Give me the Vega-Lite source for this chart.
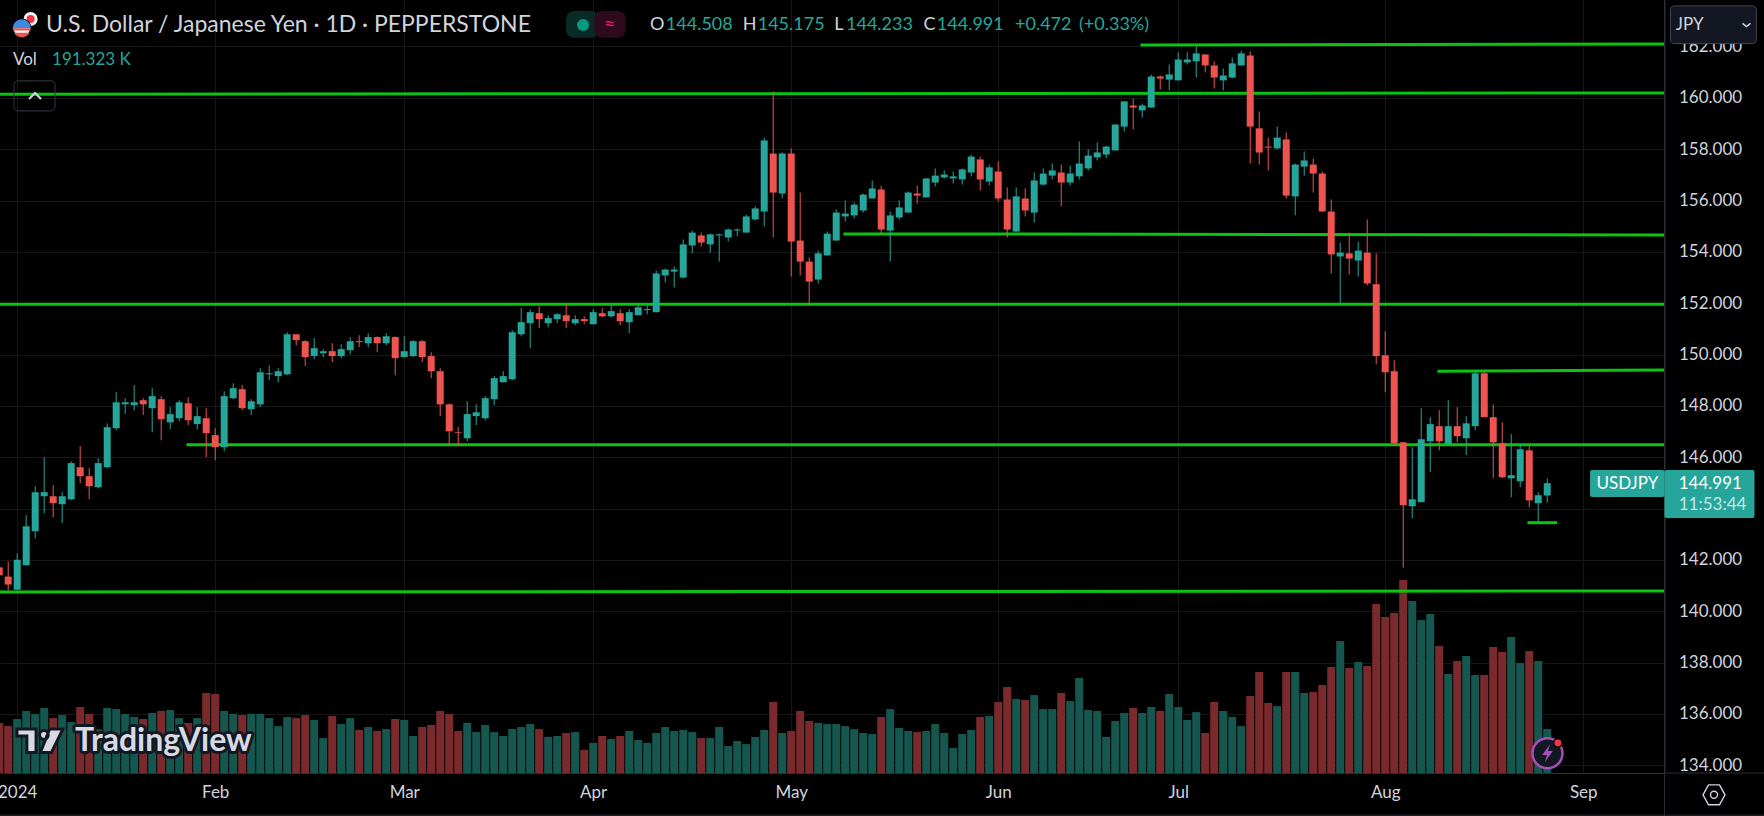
{"$schema":"https://vega.github.io/schema/vega-lite/v6.json","autosize":{"type":"none"},"padding":{"left":0,"top":0,"right":99.5,"bottom":43},"width":1664.5,"height":773,"background":"#000000","config":{"font":"Lato","view":{"stroke":null}},
"datasets":{"bars":[
{"i":-2,"o":141.71,"h":141.9,"l":141.3,"c":141.4,"v":218,"dir":"down"},
{"i":-1,"o":141.35,"h":141.94,"l":140.81,"c":141.04,"v":204,"dir":"down"},
{"i":0,"o":140.84,"h":142.25,"l":140.84,"c":142.01,"v":235,"dir":"up"},
{"i":1,"o":141.79,"h":143.74,"l":141.79,"c":143.31,"v":270,"dir":"up"},
{"i":2,"o":143.12,"h":144.87,"l":142.84,"c":144.64,"v":257,"dir":"up"},
{"i":3,"o":144.48,"h":146.0,"l":143.82,"c":144.64,"v":283,"dir":"up"},
{"i":4,"o":144.48,"h":144.91,"l":143.66,"c":144.21,"v":239,"dir":"down"},
{"i":5,"o":144.17,"h":144.64,"l":143.43,"c":144.48,"v":252,"dir":"up"},
{"i":6,"o":144.36,"h":145.84,"l":144.32,"c":145.77,"v":222,"dir":"up"},
{"i":7,"o":145.61,"h":146.43,"l":144.99,"c":145.26,"v":287,"dir":"down"},
{"i":8,"o":145.26,"h":145.57,"l":144.36,"c":144.87,"v":257,"dir":"down"},
{"i":9,"o":144.83,"h":145.96,"l":144.79,"c":145.77,"v":190,"dir":"up"},
{"i":10,"o":145.61,"h":147.32,"l":145.57,"c":147.17,"v":283,"dir":"up"},
{"i":11,"o":147.13,"h":148.53,"l":147.05,"c":148.14,"v":278,"dir":"up"},
{"i":12,"o":148.06,"h":148.3,"l":147.68,"c":148.14,"v":257,"dir":"up"},
{"i":13,"o":148.03,"h":148.81,"l":147.83,"c":148.14,"v":244,"dir":"up"},
{"i":14,"o":148.22,"h":148.3,"l":147.64,"c":148.06,"v":235,"dir":"down"},
{"i":15,"o":147.91,"h":148.69,"l":146.97,"c":148.38,"v":261,"dir":"up"},
{"i":16,"o":148.26,"h":148.38,"l":146.66,"c":147.48,"v":270,"dir":"down"},
{"i":17,"o":147.36,"h":147.95,"l":147.09,"c":147.68,"v":274,"dir":"up"},
{"i":18,"o":147.52,"h":148.22,"l":147.4,"c":148.14,"v":239,"dir":"up"},
{"i":19,"o":148.1,"h":148.34,"l":147.25,"c":147.44,"v":218,"dir":"down"},
{"i":20,"o":147.29,"h":147.95,"l":147.09,"c":147.6,"v":239,"dir":"up"},
{"i":21,"o":147.52,"h":147.91,"l":146.0,"c":146.94,"v":348,"dir":"down"},
{"i":22,"o":146.86,"h":147.13,"l":145.88,"c":146.39,"v":344,"dir":"down"},
{"i":23,"o":146.39,"h":148.57,"l":146.23,"c":148.38,"v":270,"dir":"up"},
{"i":24,"o":148.3,"h":148.88,"l":148.26,"c":148.69,"v":257,"dir":"up"},
{"i":25,"o":148.65,"h":148.81,"l":147.83,"c":147.91,"v":252,"dir":"down"},
{"i":26,"o":147.87,"h":148.26,"l":147.64,"c":148.18,"v":257,"dir":"up"},
{"i":27,"o":148.06,"h":149.47,"l":147.95,"c":149.31,"v":257,"dir":"up"},
{"i":28,"o":149.23,"h":149.58,"l":149.0,"c":149.27,"v":239,"dir":"up"},
{"i":29,"o":149.16,"h":149.47,"l":148.92,"c":149.35,"v":204,"dir":"up"},
{"i":30,"o":149.23,"h":150.87,"l":149.19,"c":150.79,"v":244,"dir":"up"},
{"i":31,"o":150.79,"h":150.79,"l":150.36,"c":150.56,"v":239,"dir":"down"},
{"i":32,"o":150.52,"h":150.56,"l":149.55,"c":149.9,"v":252,"dir":"down"},
{"i":33,"o":149.94,"h":150.64,"l":149.82,"c":150.25,"v":231,"dir":"up"},
{"i":34,"o":150.05,"h":150.21,"l":149.9,"c":150.13,"v":152,"dir":"up"},
{"i":35,"o":150.13,"h":150.44,"l":149.7,"c":149.94,"v":248,"dir":"down"},
{"i":36,"o":149.94,"h":150.4,"l":149.86,"c":150.21,"v":213,"dir":"up"},
{"i":37,"o":150.17,"h":150.68,"l":150.01,"c":150.52,"v":239,"dir":"up"},
{"i":38,"o":150.52,"h":150.75,"l":150.29,"c":150.48,"v":187,"dir":"down"},
{"i":39,"o":150.44,"h":150.83,"l":150.29,"c":150.68,"v":200,"dir":"up"},
{"i":40,"o":150.68,"h":150.71,"l":150.09,"c":150.44,"v":183,"dir":"down"},
{"i":41,"o":150.44,"h":150.83,"l":150.36,"c":150.71,"v":191,"dir":"up"},
{"i":42,"o":150.68,"h":150.71,"l":149.19,"c":149.86,"v":235,"dir":"down"},
{"i":43,"o":149.9,"h":150.71,"l":149.9,"c":150.13,"v":231,"dir":"up"},
{"i":44,"o":149.94,"h":150.56,"l":149.9,"c":150.52,"v":161,"dir":"up"},
{"i":45,"o":150.52,"h":150.56,"l":149.7,"c":149.9,"v":200,"dir":"down"},
{"i":46,"o":149.94,"h":150.09,"l":149.08,"c":149.35,"v":209,"dir":"down"},
{"i":47,"o":149.35,"h":149.47,"l":147.6,"c":148.06,"v":270,"dir":"down"},
{"i":48,"o":148.06,"h":148.1,"l":146.43,"c":147.01,"v":257,"dir":"down"},
{"i":49,"o":146.97,"h":147.17,"l":146.43,"c":146.94,"v":183,"dir":"down"},
{"i":50,"o":146.74,"h":148.18,"l":146.62,"c":147.68,"v":218,"dir":"up"},
{"i":51,"o":147.6,"h":148.06,"l":147.25,"c":147.75,"v":178,"dir":"up"},
{"i":52,"o":147.52,"h":148.38,"l":147.44,"c":148.3,"v":209,"dir":"up"},
{"i":53,"o":148.26,"h":149.16,"l":148.03,"c":149.08,"v":178,"dir":"up"},
{"i":54,"o":148.92,"h":149.35,"l":148.92,"c":149.16,"v":161,"dir":"up"},
{"i":55,"o":149.04,"h":150.95,"l":149.0,"c":150.87,"v":191,"dir":"up"},
{"i":56,"o":150.79,"h":151.81,"l":150.71,"c":151.26,"v":200,"dir":"up"},
{"i":57,"o":151.22,"h":151.77,"l":150.25,"c":151.65,"v":213,"dir":"up"},
{"i":58,"o":151.61,"h":151.88,"l":151.03,"c":151.38,"v":191,"dir":"down"},
{"i":59,"o":151.22,"h":151.53,"l":151.06,"c":151.42,"v":157,"dir":"up"},
{"i":60,"o":151.38,"h":151.61,"l":151.22,"c":151.57,"v":161,"dir":"up"},
{"i":61,"o":151.53,"h":151.96,"l":151.03,"c":151.3,"v":174,"dir":"down"},
{"i":62,"o":151.22,"h":151.53,"l":151.14,"c":151.38,"v":178,"dir":"up"},
{"i":63,"o":151.38,"h":151.49,"l":151.18,"c":151.3,"v":100,"dir":"down"},
{"i":64,"o":151.18,"h":151.77,"l":151.18,"c":151.65,"v":131,"dir":"up"},
{"i":65,"o":151.61,"h":151.81,"l":151.45,"c":151.49,"v":161,"dir":"down"},
{"i":66,"o":151.49,"h":151.92,"l":151.45,"c":151.69,"v":148,"dir":"up"},
{"i":67,"o":151.61,"h":151.77,"l":151.14,"c":151.3,"v":161,"dir":"down"},
{"i":68,"o":151.26,"h":151.77,"l":150.83,"c":151.65,"v":183,"dir":"up"},
{"i":69,"o":151.53,"h":151.92,"l":151.53,"c":151.84,"v":144,"dir":"up"},
{"i":70,"o":151.73,"h":151.92,"l":151.57,"c":151.77,"v":131,"dir":"up"},
{"i":71,"o":151.65,"h":153.27,"l":151.65,"c":153.16,"v":174,"dir":"up"},
{"i":72,"o":153.08,"h":153.35,"l":152.81,"c":153.31,"v":200,"dir":"up"},
{"i":73,"o":153.23,"h":153.43,"l":152.61,"c":153.31,"v":183,"dir":"up"},
{"i":74,"o":153.0,"h":154.48,"l":152.96,"c":154.29,"v":187,"dir":"up"},
{"i":75,"o":154.25,"h":154.83,"l":153.94,"c":154.75,"v":178,"dir":"up"},
{"i":76,"o":154.64,"h":154.75,"l":154.21,"c":154.36,"v":152,"dir":"down"},
{"i":77,"o":154.29,"h":154.71,"l":153.97,"c":154.68,"v":152,"dir":"up"},
{"i":78,"o":154.64,"h":154.71,"l":153.62,"c":154.68,"v":200,"dir":"up"},
{"i":79,"o":154.56,"h":154.91,"l":154.4,"c":154.87,"v":117,"dir":"up"},
{"i":80,"o":154.83,"h":154.91,"l":154.6,"c":154.87,"v":139,"dir":"up"},
{"i":81,"o":154.75,"h":155.45,"l":154.75,"c":155.38,"v":126,"dir":"up"},
{"i":82,"o":155.26,"h":155.77,"l":155.22,"c":155.69,"v":157,"dir":"up"},
{"i":83,"o":155.57,"h":158.45,"l":154.99,"c":158.34,"v":187,"dir":"up"},
{"i":84,"o":157.83,"h":160.25,"l":154.56,"c":156.31,"v":309,"dir":"down"},
{"i":85,"o":156.27,"h":157.87,"l":156.08,"c":157.83,"v":174,"dir":"up"},
{"i":86,"o":157.83,"h":158.03,"l":153.04,"c":154.4,"v":183,"dir":"down"},
{"i":87,"o":154.44,"h":156.31,"l":153.08,"c":153.62,"v":270,"dir":"down"},
{"i":88,"o":153.62,"h":153.78,"l":151.91,"c":152.84,"v":226,"dir":"down"},
{"i":89,"o":152.92,"h":154.05,"l":152.77,"c":153.94,"v":218,"dir":"up"},
{"i":90,"o":153.86,"h":154.79,"l":153.86,"c":154.71,"v":213,"dir":"up"},
{"i":91,"o":154.44,"h":155.65,"l":154.44,"c":155.53,"v":213,"dir":"up"},
{"i":92,"o":155.38,"h":156.0,"l":155.18,"c":155.49,"v":204,"dir":"up"},
{"i":93,"o":155.42,"h":155.92,"l":155.3,"c":155.84,"v":191,"dir":"up"},
{"i":94,"o":155.61,"h":156.27,"l":155.53,"c":156.23,"v":174,"dir":"up"},
{"i":95,"o":156.08,"h":156.78,"l":156.08,"c":156.47,"v":170,"dir":"up"},
{"i":96,"o":156.43,"h":156.58,"l":154.71,"c":154.87,"v":244,"dir":"down"},
{"i":97,"o":154.83,"h":155.57,"l":153.62,"c":155.42,"v":278,"dir":"up"},
{"i":98,"o":155.34,"h":156.0,"l":155.26,"c":155.73,"v":196,"dir":"up"},
{"i":99,"o":155.53,"h":156.35,"l":155.53,"c":156.31,"v":183,"dir":"up"},
{"i":100,"o":156.27,"h":156.58,"l":155.88,"c":156.19,"v":178,"dir":"down"},
{"i":101,"o":156.12,"h":156.86,"l":156.12,"c":156.86,"v":183,"dir":"up"},
{"i":102,"o":156.7,"h":157.25,"l":156.55,"c":156.97,"v":213,"dir":"up"},
{"i":103,"o":156.9,"h":157.17,"l":156.86,"c":157.01,"v":174,"dir":"up"},
{"i":104,"o":156.86,"h":157.13,"l":156.66,"c":156.94,"v":109,"dir":"up"},
{"i":105,"o":156.82,"h":157.25,"l":156.62,"c":157.21,"v":170,"dir":"up"},
{"i":106,"o":157.09,"h":157.79,"l":156.94,"c":157.71,"v":187,"dir":"up"},
{"i":107,"o":157.6,"h":157.71,"l":156.39,"c":156.82,"v":244,"dir":"down"},
{"i":108,"o":156.74,"h":157.4,"l":156.58,"c":157.29,"v":248,"dir":"up"},
{"i":109,"o":157.13,"h":157.52,"l":155.96,"c":156.08,"v":309,"dir":"down"},
{"i":110,"o":156.04,"h":156.51,"l":154.56,"c":154.87,"v":374,"dir":"down"},
{"i":111,"o":154.79,"h":156.51,"l":154.79,"c":156.16,"v":322,"dir":"up"},
{"i":112,"o":156.08,"h":156.47,"l":155.38,"c":155.61,"v":318,"dir":"down"},
{"i":113,"o":155.53,"h":157.09,"l":155.14,"c":156.78,"v":339,"dir":"up"},
{"i":114,"o":156.62,"h":157.25,"l":156.58,"c":157.05,"v":278,"dir":"up"},
{"i":115,"o":156.97,"h":157.44,"l":156.82,"c":157.17,"v":278,"dir":"up"},
{"i":116,"o":157.09,"h":157.4,"l":155.77,"c":156.7,"v":348,"dir":"down"},
{"i":117,"o":156.7,"h":157.36,"l":156.58,"c":157.05,"v":313,"dir":"up"},
{"i":118,"o":156.94,"h":158.3,"l":156.82,"c":157.44,"v":413,"dir":"up"},
{"i":119,"o":157.25,"h":157.99,"l":157.17,"c":157.75,"v":274,"dir":"up"},
{"i":120,"o":157.68,"h":158.26,"l":157.56,"c":157.87,"v":270,"dir":"up"},
{"i":121,"o":157.79,"h":158.14,"l":157.64,"c":158.1,"v":157,"dir":"up"},
{"i":122,"o":157.95,"h":158.96,"l":157.95,"c":158.96,"v":226,"dir":"up"},
{"i":123,"o":158.88,"h":159.86,"l":158.69,"c":159.86,"v":261,"dir":"up"},
{"i":124,"o":159.7,"h":159.97,"l":158.77,"c":159.62,"v":283,"dir":"down"},
{"i":125,"o":159.51,"h":159.78,"l":159.23,"c":159.7,"v":261,"dir":"up"},
{"i":126,"o":159.62,"h":160.91,"l":159.62,"c":160.83,"v":287,"dir":"up"},
{"i":127,"o":160.83,"h":160.87,"l":160.32,"c":160.75,"v":270,"dir":"down"},
{"i":128,"o":160.71,"h":161.3,"l":160.29,"c":160.91,"v":344,"dir":"up"},
{"i":129,"o":160.68,"h":161.77,"l":160.68,"c":161.49,"v":287,"dir":"up"},
{"i":130,"o":161.38,"h":161.77,"l":161.3,"c":161.49,"v":231,"dir":"up"},
{"i":131,"o":161.42,"h":162.0,"l":160.79,"c":161.73,"v":265,"dir":"up"},
{"i":132,"o":161.69,"h":161.69,"l":160.99,"c":161.26,"v":174,"dir":"down"},
{"i":133,"o":161.26,"h":161.42,"l":160.36,"c":160.79,"v":309,"dir":"down"},
{"i":134,"o":160.68,"h":161.14,"l":160.29,"c":160.87,"v":270,"dir":"up"},
{"i":135,"o":160.79,"h":161.57,"l":160.75,"c":161.34,"v":244,"dir":"up"},
{"i":136,"o":161.26,"h":161.84,"l":161.26,"c":161.73,"v":204,"dir":"up"},
{"i":137,"o":161.65,"h":161.81,"l":157.44,"c":158.88,"v":335,"dir":"down"},
{"i":138,"o":158.81,"h":159.47,"l":157.4,"c":157.87,"v":439,"dir":"down"},
{"i":139,"o":158.1,"h":158.45,"l":157.17,"c":158.06,"v":305,"dir":"down"},
{"i":140,"o":158.03,"h":158.88,"l":157.99,"c":158.45,"v":291,"dir":"up"},
{"i":141,"o":158.38,"h":158.65,"l":156.08,"c":156.19,"v":439,"dir":"down"},
{"i":142,"o":156.16,"h":157.44,"l":155.42,"c":157.4,"v":439,"dir":"up"},
{"i":143,"o":157.32,"h":157.91,"l":156.97,"c":157.56,"v":348,"dir":"up"},
{"i":144,"o":157.4,"h":157.64,"l":156.31,"c":157.05,"v":352,"dir":"down"},
{"i":145,"o":157.05,"h":157.13,"l":155.57,"c":155.57,"v":383,"dir":"down"},
{"i":146,"o":155.57,"h":156.04,"l":153.16,"c":153.9,"v":461,"dir":"down"},
{"i":147,"o":153.82,"h":154.36,"l":151.99,"c":153.97,"v":574,"dir":"up"},
{"i":148,"o":153.94,"h":154.75,"l":153.12,"c":153.74,"v":457,"dir":"down"},
{"i":149,"o":153.66,"h":154.4,"l":153.04,"c":154.05,"v":483,"dir":"up"},
{"i":150,"o":153.97,"h":155.26,"l":152.69,"c":152.77,"v":465,"dir":"down"},
{"i":151,"o":152.74,"h":153.94,"l":149.62,"c":149.94,"v":735,"dir":"down"},
{"i":152,"o":149.97,"h":150.91,"l":148.53,"c":149.31,"v":679,"dir":"down"},
{"i":153,"o":149.35,"h":149.78,"l":146.43,"c":146.55,"v":696,"dir":"down"},
{"i":154,"o":146.58,"h":146.58,"l":141.7,"c":144.13,"v":840,"dir":"down"},
{"i":155,"o":144.09,"h":146.39,"l":143.62,"c":144.36,"v":748,"dir":"up"},
{"i":156,"o":144.25,"h":147.91,"l":144.25,"c":146.7,"v":666,"dir":"up"},
{"i":157,"o":146.62,"h":147.56,"l":145.42,"c":147.29,"v":692,"dir":"up"},
{"i":158,"o":147.21,"h":147.83,"l":146.27,"c":146.62,"v":552,"dir":"down"},
{"i":159,"o":146.51,"h":148.22,"l":146.51,"c":147.21,"v":431,"dir":"up"},
{"i":160,"o":147.21,"h":147.95,"l":146.58,"c":146.82,"v":487,"dir":"down"},
{"i":161,"o":146.74,"h":147.6,"l":146.08,"c":147.32,"v":509,"dir":"up"},
{"i":162,"o":147.21,"h":149.35,"l":147.05,"c":149.27,"v":426,"dir":"up"},
{"i":163,"o":149.27,"h":149.35,"l":147.56,"c":147.56,"v":426,"dir":"down"},
{"i":164,"o":147.56,"h":148.06,"l":145.18,"c":146.58,"v":548,"dir":"down"},
{"i":165,"o":146.55,"h":147.36,"l":145.18,"c":145.22,"v":526,"dir":"down"},
{"i":166,"o":145.18,"h":146.9,"l":144.44,"c":145.3,"v":592,"dir":"up"},
{"i":167,"o":145.06,"h":146.51,"l":144.83,"c":146.31,"v":479,"dir":"up"},
{"i":168,"o":146.27,"h":146.43,"l":144.05,"c":144.32,"v":531,"dir":"down"},
{"i":169,"o":144.21,"h":144.64,"l":143.47,"c":144.52,"v":487,"dir":"up"},
{"i":170,"o":144.508,"h":145.175,"l":144.233,"c":144.991,"v":191.323,"dir":"up"}
],
"levels":[
{"a":124.8,"b":183.03,"p":162.06,"q":162.1},
{"a":-1.911,"b":183.03,"p":160.14,"q":160.19},
{"a":91.8,"b":183.03,"p":154.7,"q":154.66},
{"a":-1.911,"b":183.03,"p":151.96,"q":151.96},
{"a":157.8,"b":183.03,"p":149.35,"q":149.4},
{"a":18.8,"b":183.03,"p":146.49,"q":146.49},
{"a":-1.911,"b":183.03,"p":140.75,"q":140.79},
{"a":167.8,"b":171.1,"p":143.45,"q":143.45}
]},
"layer":[
{"data":{"name":"bars"},"mark":{"type":"bar","size":8,"orient":"vertical"},
"encoding":{
"x":{"field":"i","type":"quantitative","scale":{"domain":[-1.911,183.03],"nice":false,"zero":false,"padding":0},"axis":{"title":null,"values":[0,22,43,64,86,109,129,152,174],"labelExpr":"['2024','Feb','Mar','Apr','May','Jun','Jul','Aug','Sep'][indexof([0,22,43,64,86,109,129,152,174],datum.value)]","grid":true,"gridColor":"#171717","gridWidth":1,"ticks":false,"domain":true,"domainColor":"#2a2e39","labelColor":"#d1d4dc","labelFontSize":17,"labelPadding":11,"labelBound":false,"labelFlush":false,"labelOverlap":false}},
"y":{"field":"v","type":"quantitative","stack":null,"scale":{"domain":[0,3362.6],"nice":false,"zero":true},"axis":null},
"color":{"field":"dir","type":"nominal","scale":{"domain":["down","up"],"range":["#7a2a2c","#15574f"]},"legend":null}}},
{"layer":[
{"data":{"name":"levels"},"mark":{"type":"rule","color":"#0bc412","strokeWidth":3},
"encoding":{
"x":{"field":"a","type":"quantitative"},"x2":{"field":"b"},
"y":{"field":"p","type":"quantitative","scale":{"domain":[133.7,163.81],"nice":false,"zero":false},"axis":{"title":null,"orient":"right","values":[134,136,138,140,142,144,146,148,150,152,154,156,158,160,162],"format":".3f","grid":true,"gridColor":"#171717","gridWidth":1,"ticks":false,"domain":true,"domainColor":"#2a2e39","labelColor":"#d1d4dc","labelFontSize":17,"labelPadding":14,"labelBound":false,"labelFlush":false,"labelOverlap":false}},"y2":{"field":"q"}}},
{"data":{"name":"bars"},"mark":{"type":"rule","strokeWidth":1},
"encoding":{"x":{"field":"i","type":"quantitative"},"y":{"field":"l","type":"quantitative"},"y2":{"field":"h"},
"color":{"field":"dir","type":"nominal","scale":{"domain":["down","up"],"range":["#ef5350","#26a69a"]},"legend":null}}},
{"data":{"name":"bars"},"mark":{"type":"bar","size":7,"orient":"vertical"},
"encoding":{"x":{"field":"i","type":"quantitative"},"y":{"field":"o","type":"quantitative"},"y2":{"field":"c"},
"color":{"field":"dir","type":"nominal","scale":{"domain":["down","up"],"range":["#ef5350","#26a69a"]},"legend":null}}},
{"data":{"values":[{"a":183.03,"b":183.03,"p":163.81,"q":132.0},{"a":183.03,"b":194.09,"p":133.7,"q":133.7},{"a":-1.911,"b":194.09,"p":132.06,"q":132.06}]},"mark":{"type":"rule","color":"#2a2e39","strokeWidth":1},
"encoding":{"x":{"field":"a","type":"quantitative"},"x2":{"field":"b"},"y":{"field":"p","type":"quantitative"},"y2":{"field":"q"}}},
{"data":{"values":[{"a":183.68,"b":193.24,"p":163.58,"q":162.11}]},"mark":{"type":"rect","fill":"#131722","stroke":"#434651","strokeWidth":1,"cornerRadius":4},
"encoding":{"x":{"field":"a","type":"quantitative"},"x2":{"field":"b"},"y":{"field":"p","type":"quantitative"},"y2":{"field":"q"}}},
{"data":{"values":[{"a":-0.36,"b":4.2,"p":160.66,"q":159.49}]},"mark":{"type":"rect","fillOpacity":0,"stroke":"#363a45","strokeWidth":1,"cornerRadius":4},
"encoding":{"x":{"field":"a","type":"quantitative"},"x2":{"field":"b"},"y":{"field":"p","type":"quantitative"},"y2":{"field":"q"}}},
{"data":{"values":[{"a":60.98,"b":64.6,"p":163.38,"q":162.34}]},"mark":{"type":"rect","fill":"#0a2a27","cornerRadius":8},
"encoding":{"x":{"field":"a","type":"quantitative"},"x2":{"field":"b"},"y":{"field":"p","type":"quantitative"},"y2":{"field":"q"}}},
{"data":{"values":[{"a":64.1,"b":67.6,"p":163.38,"q":162.34}]},"mark":{"type":"rect","fill":"#2e0b1c","cornerRadius":8},
"encoding":{"x":{"field":"a","type":"quantitative"},"x2":{"field":"b"},"y":{"field":"p","type":"quantitative"},"y2":{"field":"q"}}},
{"data":{"values":[{"a":174.76,"b":183.03,"p":145.5,"q":144.45},{"a":183.03,"b":193.03,"p":145.5,"q":143.63}]},"mark":{"type":"rect","fill":"#26a69a","cornerRadius":2},
"encoding":{"x":{"field":"a","type":"quantitative"},"x2":{"field":"b"},"y":{"field":"p","type":"quantitative"},"y2":{"field":"q"}}},
{"data":{"values":[{"i":62.87,"p":162.84}]},"mark":{"type":"point","shape":"circle","filled":true,"fill":"#089981","size":144,"opacity":1},
"encoding":{"x":{"field":"i","type":"quantitative"},"y":{"field":"p","type":"quantitative"}}},
{"data":{"values":[{"i":3.2,"p":162.84,"t":"U.S. Dollar / Japanese Yen · 1D · PEPPERSTONE"}]},"mark":{"type":"text","align":"left","baseline":"middle","fontSize":23,"fill":"#d1d4dc"},
"encoding":{"x":{"field":"i","type":"quantitative"},"y":{"field":"p","type":"quantitative"},"text":{"field":"t"}}},
{"data":{"values":[{"i":70.32,"p":162.84,"t":"O"},{"i":80.61,"p":162.84,"t":"H"},{"i":90.78,"p":162.84,"t":"L"},{"i":100.69,"p":162.84,"t":"C"}]},"mark":{"type":"text","align":"left","baseline":"middle","fontSize":18,"fill":"#d1d4dc"},
"encoding":{"x":{"field":"i","type":"quantitative"},"y":{"field":"p","type":"quantitative"},"text":{"field":"t"}}},
{"data":{"values":[{"i":72.07,"p":162.84,"t":"144.508"},{"i":82.28,"p":162.84,"t":"145.175"},{"i":92.09,"p":162.84,"t":"144.233"},{"i":102.18,"p":162.84,"t":"144.991"},{"i":110.87,"p":162.84,"t":"+0.472"},{"i":117.98,"p":162.84,"t":"(+0.33%)"}]},"mark":{"type":"text","align":"left","baseline":"middle","fontSize":18,"fill":"#26a69a"},
"encoding":{"x":{"field":"i","type":"quantitative"},"y":{"field":"p","type":"quantitative"},"text":{"field":"t"}}},
{"data":{"values":[{"i":-0.47,"p":161.48,"t":"Vol"},{"i":184.28,"p":162.84,"t":"JPY"}]},"mark":{"type":"text","align":"left","baseline":"middle","fontSize":17,"fill":"#d1d4dc"},
"encoding":{"x":{"field":"i","type":"quantitative"},"y":{"field":"p","type":"quantitative"},"text":{"field":"t"}}},
{"data":{"values":[{"i":3.87,"p":161.48,"t":"191.323 K"}]},"mark":{"type":"text","align":"left","baseline":"middle","fontSize":17,"fill":"#26a69a"},
"encoding":{"x":{"field":"i","type":"quantitative"},"y":{"field":"p","type":"quantitative"},"text":{"field":"t"}}},
{"data":{"values":[{"i":65.82,"p":162.84,"t":"≈"}]},"mark":{"type":"text","align":"center","baseline":"middle","fontSize":20,"fill":"#e91e63"},
"encoding":{"x":{"field":"i","type":"quantitative"},"y":{"field":"p","type":"quantitative"},"text":{"field":"t"}}},
{"data":{"values":[{"i":175.47,"p":144.96,"t":"USDJPY"},{"i":184.61,"p":144.96,"t":"144.991"}]},"mark":{"type":"text","align":"left","baseline":"middle","fontSize":17,"fill":"#ffffff"},
"encoding":{"x":{"field":"i","type":"quantitative"},"y":{"field":"p","type":"quantitative"},"text":{"field":"t"}}},
{"data":{"values":[{"i":184.61,"p":144.15,"t":"11:53:44"}]},"mark":{"type":"text","align":"left","baseline":"middle","fontSize":17,"fill":"#c4e6e2"},
"encoding":{"x":{"field":"i","type":"quantitative"},"y":{"field":"p","type":"quantitative"},"text":{"field":"t"}}},
{"data":{"values":[{"i":6.42,"p":134.95,"t":"TradingView"}]},"mark":{"type":"text","align":"left","baseline":"middle","fontSize":32,"fontWeight":"bold","fill":"#131722","stroke":"#131722","strokeWidth":6,"strokeJoin":"round"},
"encoding":{"x":{"field":"i","type":"quantitative"},"y":{"field":"p","type":"quantitative"},"text":{"field":"t"}}},
{"data":{"values":[{"i":6.42,"p":134.95,"t":"TradingView"}]},"mark":{"type":"text","align":"left","baseline":"middle","fontSize":32,"fontWeight":"bold","fill":"#d8dae2"},
"encoding":{"x":{"field":"i","type":"quantitative"},"y":{"field":"p","type":"quantitative"},"text":{"field":"t"}}},
{"data":{"values":[{"i":2.53,"p":134.93}]},"mark":{"type":"point","shape":"M-1,-0.54 L-0.17,-0.54 L-0.17,0.48 L-0.57,0.48 L-0.57,-0.24 L-1,-0.24 Z M-0.02,-0.28 A0.19,0.19 0 1 1 0.36,-0.28 A0.19,0.19 0 1 1 -0.02,-0.28 Z M0.42,-0.54 L1,-0.54 L0.5,0.48 L0.02,0.48 Z","filled":true,"fill":"#d8dae2","stroke":"#131722","strokeWidth":3,"size":2116,"opacity":1},
"encoding":{"x":{"field":"i","type":"quantitative"},"y":{"field":"p","type":"quantitative"}}},
{"data":{"values":[{"i":1.98,"p":160.07}]},"mark":{"type":"point","shape":"M-1,0.5 L0,-0.5 L1,0.5","filled":false,"stroke":"#d1d4dc","strokeWidth":2,"size":144,"opacity":1},
"encoding":{"x":{"field":"i","type":"quantitative"},"y":{"field":"p","type":"quantitative"}}},
{"data":{"values":[{"i":192.14,"p":162.84}]},"mark":{"type":"point","shape":"M-1,-0.4 L0,0.4 L1,-0.4","filled":false,"stroke":"#d1d4dc","strokeWidth":1.6,"size":64,"opacity":1},
"encoding":{"x":{"field":"i","type":"quantitative"},"y":{"field":"p","type":"quantitative"}}},
{"data":{"values":[{"i":188.53,"p":132.85}]},"mark":{"type":"point","shape":"M-1,0 L-0.5,-0.9 L0.5,-0.9 L1,0 L0.5,0.9 L-0.5,0.9 Z","filled":false,"stroke":"#d1d4dc","strokeWidth":1.4,"size":484,"opacity":1},
"encoding":{"x":{"field":"i","type":"quantitative"},"y":{"field":"p","type":"quantitative"}}},
{"data":{"values":[{"i":188.53,"p":132.85}]},"mark":{"type":"point","shape":"circle","filled":false,"stroke":"#d1d4dc","strokeWidth":1.4,"size":49,"opacity":1},
"encoding":{"x":{"field":"i","type":"quantitative"},"y":{"field":"p","type":"quantitative"}}},
{"data":{"values":[{"i":170.03,"p":134.47}]},"mark":{"type":"point","shape":"circle","filled":true,"fill":"#131722","stroke":"#a64fb8","strokeWidth":2.5,"size":900,"opacity":1},
"encoding":{"x":{"field":"i","type":"quantitative"},"y":{"field":"p","type":"quantitative"}}},
{"data":{"values":[{"i":170.03,"p":134.47}]},"mark":{"type":"point","shape":"M0.3,-1 L-0.6,0.2 L-0.05,0.2 L-0.3,1 L0.6,-0.25 L0.05,-0.25 Z","filled":true,"fill":"#a64fb8","size":324,"opacity":1},
"encoding":{"x":{"field":"i","type":"quantitative"},"y":{"field":"p","type":"quantitative"}}},
{"data":{"values":[{"i":171.18,"p":134.87}]},"mark":{"type":"point","shape":"circle","filled":true,"fill":"#f23645","stroke":"#000000","strokeWidth":1.5,"size":70,"opacity":1},
"encoding":{"x":{"field":"i","type":"quantitative"},"y":{"field":"p","type":"quantitative"}}},
{"data":{"values":[{"i":1.49,"p":163.07}]},"mark":{"type":"point","shape":"circle","filled":true,"fill":"#f5f5f5","size":196,"opacity":1},
"encoding":{"x":{"field":"i","type":"quantitative"},"y":{"field":"p","type":"quantitative"}}},
{"data":{"values":[{"i":1.49,"p":163.07}]},"mark":{"type":"point","shape":"circle","filled":true,"fill":"#f23645","size":64,"opacity":1},
"encoding":{"x":{"field":"i","type":"quantitative"},"y":{"field":"p","type":"quantitative"}}},
{"data":{"values":[{"i":0.51,"p":162.71}]},"mark":{"type":"point","shape":"circle","filled":true,"fill":"#f5f5f5","stroke":"#000000","strokeWidth":1.5,"size":324,"opacity":1},
"encoding":{"x":{"field":"i","type":"quantitative"},"y":{"field":"p","type":"quantitative"}}},
{"data":{"values":[{"i":0.51,"p":162.71}]},"mark":{"type":"point","shape":"M-1,0 A1,1 0 0 1 1,0 Z","filled":true,"fill":"#3f8ae0","size":324,"opacity":1},
"encoding":{"x":{"field":"i","type":"quantitative"},"y":{"field":"p","type":"quantitative"}}},
{"data":{"values":[{"i":0.51,"p":162.71}]},"mark":{"type":"point","shape":"M-0.87,0.5 L0.87,0.5 A1,1 0 0 1 -0.87,0.5 Z M-1,0 L1,0 L0.97,0.25 L-0.97,0.25 Z","filled":true,"fill":"#ef5350","size":324,"opacity":1},
"encoding":{"x":{"field":"i","type":"quantitative"},"y":{"field":"p","type":"quantitative"}}}
]}
],
"resolve":{"scale":{"y":"independent","color":"independent"}}}
